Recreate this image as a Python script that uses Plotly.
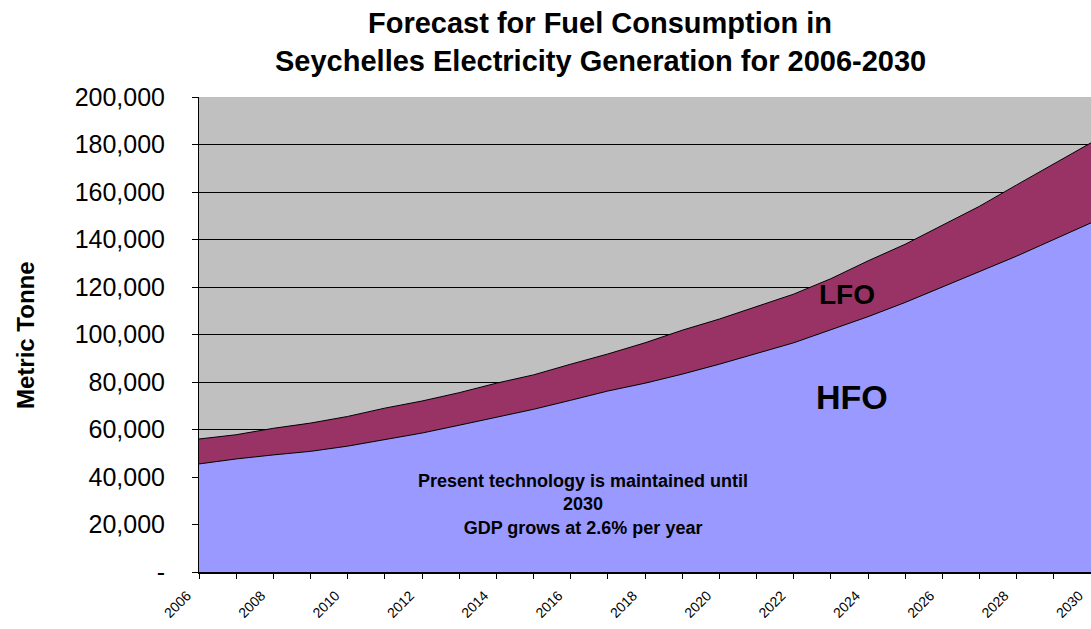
import plotly.graph_objects as go

years = list(range(2006, 2031))
hfo = [45500, 47600, 49300, 50800, 53000, 55800, 58500, 61800, 65000, 68500,
       72300, 76200, 79500, 83300, 87500, 92000, 96500, 102000, 107500, 113500,
       120000, 126500, 133000, 140000, 147000]
lfo = [10500, 10200, 11200, 11900, 12500, 13200, 13500, 13700, 14500, 14500,
       15200, 15600, 17000, 18500, 19000, 19800, 20500, 21500, 23500, 24500,
       26000, 27500, 30000, 32000, 33700]
x_tick_vals = list(range(2006, 2031, 2))
x_tick_text = [str(y) for y in x_tick_vals]
y_tick_vals = list(range(0, 200001, 20000))
y_tick_text = ["-"] + [f"{v:,}" for v in y_tick_vals[1:]]
title_lines = ["Forecast for Fuel Consumption in",
               "Seychelles Electricity Generation for 2006-2030"]

FONT = "Liberation Sans, Arial, sans-serif"
L, R, T, B = 199, 0, 97, 57
W, H = 1091, 629
PW, PH = W - L - R, H - T - B


def px_x(px):
    return (px - L) / PW


def px_y(py):
    return (H - B - py) / PH


fig = go.Figure()
fig.add_trace(go.Scatter(
    x=years, y=hfo, name="HFO", mode="lines", stackgroup="fuel",
    line=dict(color="black", width=1), fillcolor="#9999FF"))
fig.add_trace(go.Scatter(
    x=years, y=lfo, name="LFO", mode="lines", stackgroup="fuel",
    line=dict(color="black", width=1), fillcolor="#993366"))

fig.update_layout(
    width=W, height=H,
    margin=dict(l=L, r=R, t=T, b=B, autoexpand=False),
    paper_bgcolor="white", plot_bgcolor="#C0C0C0",
    showlegend=False,
    font=dict(family=FONT, color="black"),
    xaxis=dict(
        range=[2006, 2030.0001], tickmode="array", tickvals=x_tick_vals, ticktext=x_tick_text,
        tickangle=-45, tickfont=dict(size=14, family=FONT, color="black"),
        ticks="outside", ticklen=5, tickcolor="black", ticklabelstandoff=3,
        ticklabelshift=-12, ticklabeloverflow="allow",
        minor=dict(dtick=1, ticks="outside", ticklen=5, tickcolor="black", showgrid=False),
        showline=True, linecolor="black", linewidth=2, showgrid=False, zeroline=False,
        automargin=False),
    yaxis=dict(
        range=[0, 200000], tickmode="array", tickvals=y_tick_vals, ticktext=y_tick_text,
        tickfont=dict(size=25, family=FONT, color="black"),
        ticks="outside", ticklen=6, tickcolor="black", ticklabelstandoff=22,
        showline=True, linecolor="black", linewidth=1,
        showgrid=True, gridcolor="black", gridwidth=1, zeroline=False,
        automargin=False),
)

for line, py in zip(title_lines, [23, 61]):
    fig.add_annotation(
        text=f"<b>{line}</b>", xref="paper", yref="paper",
        x=px_x(600), y=px_y(py), xanchor="center", yanchor="middle",
        showarrow=False, font=dict(size=29, family=FONT, color="black"))

fig.add_annotation(
    text="<b>Metric Tonne</b>", xref="paper", yref="paper",
    x=px_x(25), y=px_y(335), xanchor="center", yanchor="middle",
    textangle=-90, showarrow=False,
    font=dict(size=24, family=FONT, color="black"))
fig.add_annotation(
    text="<b>Present technology is maintained until<br>2030<br>GDP grows at 2.6% per year</b>",
    xref="paper", yref="paper", x=px_x(583), y=px_y(504),
    xanchor="center", yanchor="middle",
    showarrow=False, align="center",
    font=dict(size=18, family=FONT, color="black"))
fig.add_annotation(
    text="<b>LFO</b>", xref="paper", yref="paper", x=px_x(847), y=px_y(294),
    xanchor="center", yanchor="middle",
    showarrow=False, font=dict(size=28, family=FONT, color="black"))
fig.add_annotation(
    text="<b>HFO</b>", xref="paper", yref="paper", x=px_x(852), y=px_y(397),
    xanchor="center", yanchor="middle",
    showarrow=False, font=dict(size=34, family=FONT, color="black"))

fig.write_html("out.html", config={"displayModeBar": False},
               post_script="document.body.style.margin='0px';")
